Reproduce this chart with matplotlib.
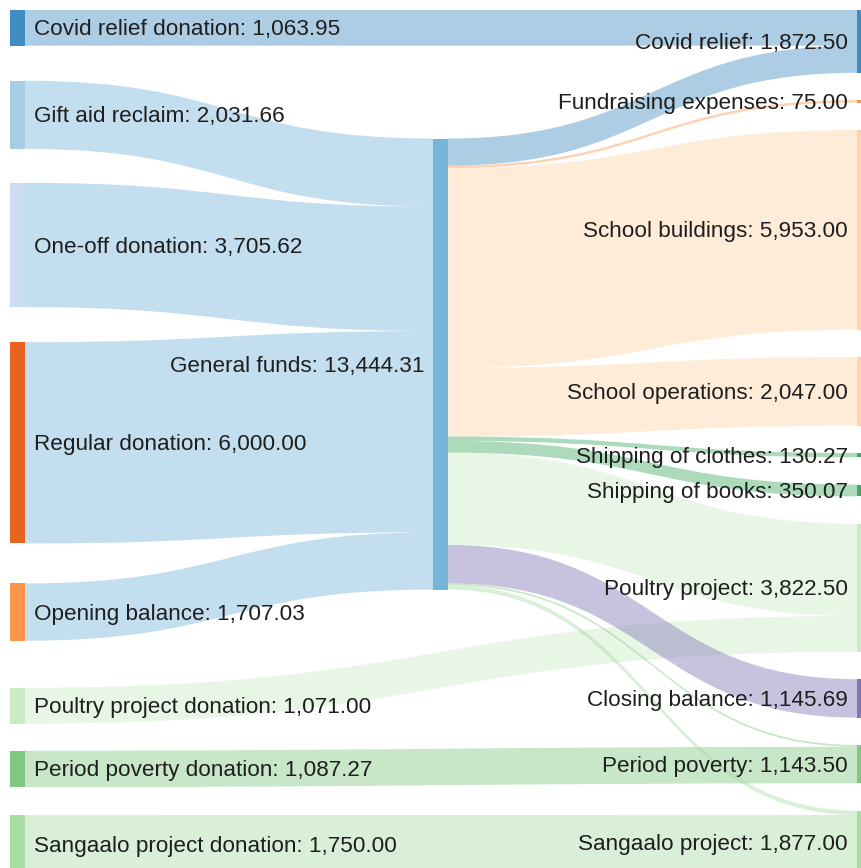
import matplotlib.pyplot as plt
from matplotlib.path import Path
from matplotlib.patches import PathPatch, Rectangle

# nodes per column
left_nodes = ["Covid relief donation", "Gift aid reclaim", "One-off donation",
              "Regular donation", "Opening balance", "Poultry project donation",
              "Period poverty donation", "Sangaalo project donation"]
mid_nodes = ["General funds"]
right_nodes = ["Covid relief", "Fundraising expenses", "School buildings",
               "School operations", "Shipping of clothes", "Shipping of books",
               "Poultry project", "Closing balance", "Period poverty",
               "Sangaalo project"]

# flows
link_src = ["Covid relief donation", "Gift aid reclaim", "One-off donation",
            "Regular donation", "Opening balance", "Poultry project donation",
            "Period poverty donation", "Sangaalo project donation",
            "General funds", "General funds", "General funds", "General funds",
            "General funds", "General funds", "General funds", "General funds",
            "General funds", "General funds"]
link_dst = ["Covid relief", "General funds", "General funds",
            "General funds", "General funds", "Poultry project",
            "Period poverty", "Sangaalo project",
            "Covid relief", "Fundraising expenses", "School buildings", "School operations",
            "Shipping of clothes", "Shipping of books", "Poultry project", "Closing balance",
            "Period poverty", "Sangaalo project"]
link_val = [1063.95, 2031.66, 3705.62, 6000.00, 1707.03, 1071.00, 1087.27, 1750.00,
            808.55, 75.00, 5953.00, 2047.00, 130.27, 350.07, 2751.50, 1145.69,
            56.23, 127.00]

node_colors = {
    "Covid relief donation": "#3182bd", "Gift aid reclaim": "#9ecae1",
    "One-off donation": "#c6dbef", "Regular donation": "#e6550d",
    "Opening balance": "#fd8d3c", "Poultry project donation": "#c7e9c0",
    "Period poverty donation": "#74c476", "Sangaalo project donation": "#a1d99b",
    "General funds": "#6baed6",
    "Covid relief": "#3182bd", "Fundraising expenses": "#fd8d3c",
    "School buildings": "#fdd0a2", "School operations": "#fdd0a2",
    "Shipping of clothes": "#31a354", "Shipping of books": "#31a354",
    "Poultry project": "#c7e9c0", "Closing balance": "#756bb1",
    "Period poverty": "#74c476", "Sangaalo project": "#a1d99b",
}

# layout, in pixels
scale = 0.03355
node_w = 15
col_x = [10, 433, 857]
left_gaps = [35, 34, 35, 40, 47, 27, 28]
mid_top = 138.5
right_gap = 27.3
top = 10

links = list(zip(link_src, link_dst, link_val))


def node_value(n):
    ins = sum(v for s, t, v in links if t == n)
    outs = sum(v for s, t, v in links if s == n)
    return max(ins, outs)


pos = {}
y = top
for i, n in enumerate(left_nodes):
    h = node_value(n) * scale
    pos[n] = (col_x[0], y, h)
    if i < len(left_gaps):
        y += h + left_gaps[i]
pos["General funds"] = (col_x[1], mid_top, node_value("General funds") * scale)
y = top
for n in right_nodes:
    h = node_value(n) * scale
    pos[n] = (col_x[2], y, h)
    y += h + right_gap

# where each link leaves and enters its nodes
out_y = {}
in_y = {}
for n in pos:
    outs = sorted([i for i, l in enumerate(links) if l[0] == n], key=lambda i: pos[links[i][1]][1])
    y = pos[n][1]
    for i in outs:
        out_y[i] = y
        y += links[i][2] * scale
    ins = sorted([i for i, l in enumerate(links) if l[1] == n], key=lambda i: pos[links[i][0]][1])
    y = pos[n][1]
    for i in ins:
        in_y[i] = y
        y += links[i][2] * scale

fig = plt.figure(figsize=(8.61, 8.68), dpi=100)
ax = fig.add_axes([0, 0, 1, 1])
ax.set_xlim(0, 861)
ax.set_ylim(868, 0)
ax.axis("off")

for i, (s, t, v) in enumerate(links):
    x0 = pos[s][0] + node_w
    x1 = pos[t][0]
    xm = (x0 + x1) / 2
    y0 = out_y[i]
    y1 = in_y[i]
    h = v * scale
    verts = [(x0, y0), (xm, y0), (xm, y1), (x1, y1),
             (x1, y1 + h), (xm, y1 + h), (xm, y0 + h), (x0, y0 + h), (x0, y0)]
    codes = [Path.MOVETO, Path.CURVE4, Path.CURVE4, Path.CURVE4,
             Path.LINETO, Path.CURVE4, Path.CURVE4, Path.CURVE4, Path.CLOSEPOLY]
    ax.add_patch(PathPatch(Path(verts, codes), facecolor=node_colors[t],
                           edgecolor="none", alpha=0.4, zorder=1))

for n, (x, y, h) in pos.items():
    ax.add_patch(Rectangle((x, y), node_w, h, facecolor=node_colors[n],
                           edgecolor="none", alpha=0.92, zorder=2))
    label = f"{n}: {node_value(n):,.2f}"
    if n in left_nodes:
        ax.text(x + node_w + 9, y + h / 2 + 2, label, ha="left", va="center",
                fontsize=16.2, family="Liberation Sans", color="#1e1e1e", zorder=3)
    else:
        ax.text(x - 9, y + h / 2 + 2, label, ha="right", va="center",
                fontsize=16.2, family="Liberation Sans", color="#1e1e1e", zorder=3)

fig.savefig("out.png", dpi=100)
